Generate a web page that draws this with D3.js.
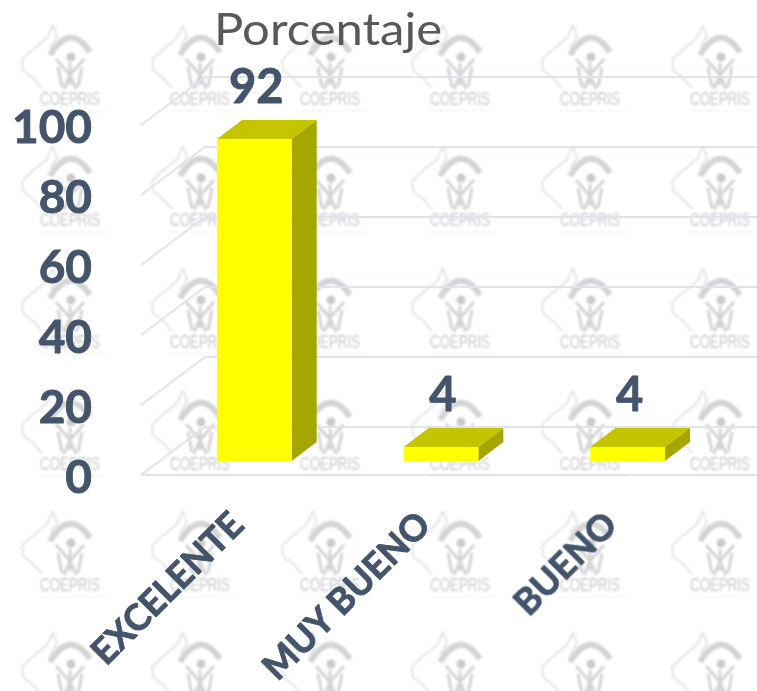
<!DOCTYPE html>
<html><head><meta charset="utf-8">
<script src="https://cdn.jsdelivr.net/npm/d3@7"></script>
<style>html,body{margin:0;padding:0;background:#fff}svg{display:block}</style>
</head><body><svg id="c" width="757" height="691"></svg>
<script>
const categories = ["EXCELENTE", "MUY BUENO", "BUENO"];
const values = [92, 4, 4];
const ticks = [0, 20, 40, 60, 80, 100];
const title = "Porcentaje";
const markCols = [70, 200, 330, 460, 590, 720];
const markRows = [97, 218, 340, 462, 583, 704];

const svg = d3.select("#c");
const W = 757, H = 691;
const depthX = 25, depthY = 19;
const floorY = 461;
const x = d3.scaleBand().domain(categories).range([161, 721]).paddingInner(0.6).paddingOuter(0.3);
const y = d3.scaleLinear().domain([0, 100]).range([floorY, floorY - 350]);
const backX = 205, backDy = 34, frontDy = 14;

const defs = svg.append("defs");
defs.append("filter").attr("id", "soft").attr("x", "-10%").attr("y", "-10%").attr("width", "120%").attr("height", "120%")
  .append("feGaussianBlur").attr("stdDeviation", 1.1);

// COEPRIS watermark tile
const sym = defs.append("g").attr("id", "mark");
const stroke = "#d4d4d4";
sym.append("path").attr("fill", "none").attr("stroke", "#e4e4e4").attr("stroke-width", 2)
  .attr("d", "M-17,-72L-23,-59L-40,-45L-48,-37L-47,-27L-37,-19L-28,-9M-17,-72L-13,-60L-20,-50");
sym.append("path").attr("fill", "none").attr("stroke", stroke).attr("stroke-width", 6)
  .attr("d", "M-20,-42Q0,-75 20,-45");
sym.append("circle").attr("cx", 1).attr("cy", -40).attr("r", 4.5).attr("fill", "#cacaca");
sym.append("path").attr("fill", "none").attr("stroke", stroke).attr("stroke-width", 3)
  .attr("d", "M-14,-38L0,-22L14,-38M0,-34L0,-12M-12,-30L-8,-10M12,-30L8,-10M-6,-8L0,-22L6,-8");
sym.append("text").attr("text-anchor", "middle").attr("y", 8).attr("font-family", "Liberation Sans")
  .attr("font-size", 19).attr("textLength", 60).attr("lengthAdjust", "spacingAndGlyphs")
  .attr("fill", "#c8c8c8").text("COEPRIS");
sym.append("path").attr("stroke", "#eeeeee").attr("stroke-width", 1).attr("d", "M-30,14H36");

const wm = svg.append("g").attr("filter", "url(#soft)");
markRows.forEach(r => markCols.forEach(c => {
  wm.append("use").attr("href", "#mark").attr("x", c).attr("y", r);
}));

// gridlines: slanted side wall plus back wall
const gridC = "#dfe4ec";
const grid = svg.append("g").attr("fill", "none").attr("stroke", gridC).attr("stroke-width", 2);
ticks.forEach(t => {
  const yy = y(t);
  grid.append("path").attr("d", `M141,${yy + frontDy}L${backX},${yy - backDy}H${W}`);
});
grid.append("path").attr("d", `M141,${y(0) + frontDy}H${W}`);

// bars
const bars = svg.append("g").selectAll("g").data(categories).join("g");
const bw = x.bandwidth();
bars.append("path").attr("fill", "#c4c400").attr("d", (d, i) => {
  const l = x(d), t = y(values[i]);
  return `M${l},${t}l${depthX},${-depthY}h${bw}l${-depthX},${depthY}z`;
});
bars.append("path").attr("fill", "#a6a600").attr("d", (d, i) => {
  const r = x(d) + bw, t = y(values[i]);
  return `M${r},${t}l${depthX},${-depthY}V${y(0) - depthY}l${-depthX},${depthY}z`;
});
bars.append("rect").attr("fill", "#ffff00")
  .attr("x", d => x(d)).attr("width", bw)
  .attr("y", (d, i) => y(values[i])).attr("height", (d, i) => y(0) - y(values[i]));

const font = "Lato, Carlito, 'Open Sans', sans-serif";
const ink = "#44546a";
const bold = s => s.attr("font-family", font).attr("font-weight", 700).attr("fill", ink)
  .attr("stroke", ink).attr("stroke-width", 0.9).attr("stroke-linejoin", "round");

// value labels
bars.append("text").call(bold).attr("font-size", 47).attr("text-anchor", "middle")
  .attr("x", d => x(d) + bw / 2 + 2)
  .attr("y", (d, i) => y(values[i]) - 36)
  .text((d, i) => values[i]);

// y tick labels
svg.append("g").selectAll("text").data(ticks).join("text").call(bold)
  .attr("font-size", 46).attr("text-anchor", "end").attr("x", 92)
  .attr("y", t => y(t) + 32).text(t => t);

// category labels
svg.append("g").selectAll("text").data(categories).join("text").call(bold)
  .attr("font-size", 36).attr("text-anchor", "end")
  .attr("transform", d => `translate(${x(d) + 29},${527}) rotate(-45)`)
  .text(d => d);

// title
svg.append("text").attr("x", 328).attr("y", 45).attr("text-anchor", "middle")
  .attr("font-family", font).attr("font-size", 44).attr("textLength", 228)
  .attr("lengthAdjust", "spacingAndGlyphs").attr("fill", "#595959").text(title);
</script></body></html>
